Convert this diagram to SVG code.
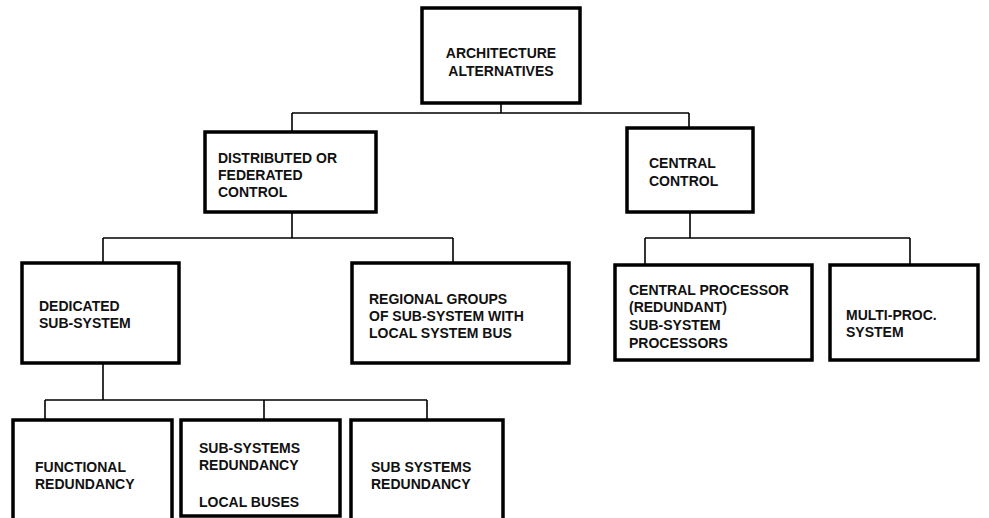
<svg xmlns="http://www.w3.org/2000/svg" width="989" height="518" viewBox="0 0 989 518">
  <style>
    .box { fill: #ffffff; stroke: #000000; stroke-width: 3.5; }
    .wire { fill: none; stroke: #000000; stroke-width: 1.6; }
    .lbl { font-family: "Liberation Sans", Arial, sans-serif; font-size: 14px; font-weight: bold; fill: #111111; }
    .mid { text-anchor: middle; }
  </style>
  <rect width="989" height="518" fill="#ffffff"/>

  <!-- tree connectors -->
  <g id="connectors">
    <path class="wire" d="M501,103 V113 M292,113 H689 M292,113 V132 M689,113 V128"/>
    <path class="wire" d="M292,212 V238 M103,238 H453 M103,238 V263 M453,238 V263"/>
    <path class="wire" d="M690,212 V238 M645,238 H910 M645,238 V265 M910,238 V265"/>
    <path class="wire" d="M103,363 V400 M45,400 H427 M45,400 V420 M264,400 V420 M427,400 V420"/>
  </g>

  <g id="architecture">
    <rect class="box" x="422" y="8" width="158" height="95"/>
    <text class="lbl mid" x="501" y="58">ARCHITECTURE</text>
    <text class="lbl mid" x="501" y="76">ALTERNATIVES</text>
  </g>

  <g id="distributed">
    <rect class="box" x="205" y="132" width="171" height="80"/>
    <text class="lbl" x="218" y="163">DISTRIBUTED OR</text>
    <text class="lbl" x="218" y="180">FEDERATED</text>
    <text class="lbl" x="218" y="197">CONTROL</text>
  </g>

  <g id="central">
    <rect class="box" x="627" y="128" width="126" height="84"/>
    <text class="lbl" x="649" y="168">CENTRAL</text>
    <text class="lbl" x="649" y="186">CONTROL</text>
  </g>

  <g id="dedicated">
    <rect class="box" x="22" y="263" width="157" height="100"/>
    <text class="lbl" x="39" y="311">DEDICATED</text>
    <text class="lbl" x="39" y="328">SUB-SYSTEM</text>
  </g>

  <g id="regional">
    <rect class="box" x="352" y="263" width="217" height="100"/>
    <text class="lbl" x="369" y="304">REGIONAL GROUPS</text>
    <text class="lbl" x="369" y="321">OF SUB-SYSTEM WITH</text>
    <text class="lbl" x="369" y="338">LOCAL SYSTEM BUS</text>
  </g>

  <g id="central-processor">
    <rect class="box" x="615" y="265" width="197" height="95"/>
    <text class="lbl" x="629" y="295">CENTRAL PROCESSOR</text>
    <text class="lbl" x="629" y="312">(REDUNDANT)</text>
    <text class="lbl" x="629" y="330">SUB-SYSTEM</text>
    <text class="lbl" x="629" y="348">PROCESSORS</text>
  </g>

  <g id="multi-proc">
    <rect class="box" x="830" y="265" width="148" height="95"/>
    <text class="lbl" x="846" y="320">MULTI-PROC.</text>
    <text class="lbl" x="846" y="337">SYSTEM</text>
  </g>

  <g id="functional">
    <rect class="box" x="13" y="420" width="159" height="102"/>
    <text class="lbl" x="35" y="472">FUNCTIONAL</text>
    <text class="lbl" x="35" y="489">REDUNDANCY</text>
  </g>

  <g id="subsystems-buses">
    <rect class="box" x="181" y="420" width="159" height="96"/>
    <text class="lbl" x="199" y="453">SUB-SYSTEMS</text>
    <text class="lbl" x="199" y="470">REDUNDANCY</text>
    <text class="lbl" x="199" y="507">LOCAL BUSES</text>
  </g>

  <g id="subsystems">
    <rect class="box" x="351" y="420" width="152" height="102"/>
    <text class="lbl" x="371" y="472">SUB SYSTEMS</text>
    <text class="lbl" x="371" y="489">REDUNDANCY</text>
  </g>
</svg>
